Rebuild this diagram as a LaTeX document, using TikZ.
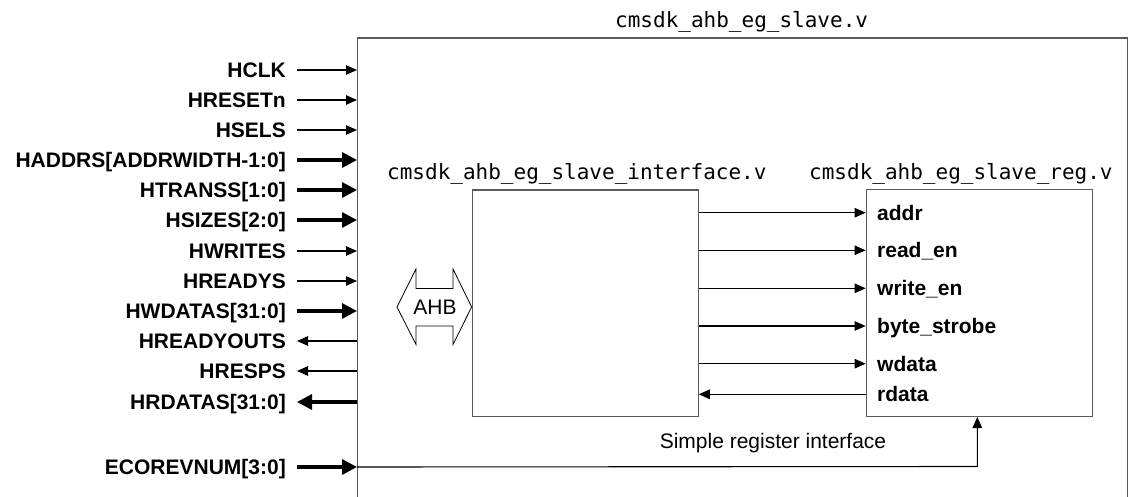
\documentclass[tikz,border=0pt]{standalone}
\usepackage{fontspec}
\setmainfont{Liberation Sans}
\newfontfamily\monofont{DejaVu Sans Mono}
\usetikzlibrary{arrows.meta}
\definecolor{boxgray}{RGB}{90,90,90}
\tikzset{
  sig/.style={font=\fontsize{21}{25}\selectfont\bfseries, inner sep=0pt, text height=17pt, text depth=2pt},
  modlabel/.style={font=\fontsize{21}{25}\selectfont\monofont, inner sep=0pt, anchor=base west},
  plain/.style={font=\fontsize{21}{25}\selectfont, inner sep=0pt},
  block/.style={draw=boxgray, line width=1.1pt, minimum width=226pt, minimum height=226.5pt, inner sep=0pt},
  thinarr/.style={line width=1.1pt, -{Triangle[length=11pt,width=9.5pt]}},
  thickarr/.style={line width=3.2pt, -{Triangle[length=15pt,width=15pt]}},
  thinline/.style={line width=1.1pt},
}
\begin{document}
\begin{tikzpicture}[x=1pt,y=-1pt]
\useasboundingbox (0,0) rectangle (1135,497);
\clip (0,0) rectangle (1135,497);
% outer module
\node[draw=boxgray, line width=1.1pt, minimum width=770pt, minimum height=500pt, inner sep=0pt, anchor=north west] (slave) at (357,37.5) {};
\node[modlabel] (slavelbl) at (615,28) {cmsdk\_ahb\_eg\_slave.v};
% inner blocks
\node[block] (iface) at (585.2,303.3) {};
\node[block] (reg) at (979.2,303.2) {};
\node[modlabel] (ifacelbl) at (387,180) {cmsdk\_ahb\_eg\_slave\_interface.v};
\node[modlabel] (reglbl) at (809,180) {cmsdk\_ahb\_eg\_slave\_reg.v};
% left signals
\foreach \n/\t/\y in {hclk/HCLK/70, hresetn/HRESETn/100, hsels/HSELS/130, haddrs/HADDRS[ADDRWIDTH-1:0]/160,
  htranss/HTRANSS[1:0]/190, hsizes/HSIZES[2:0]/220, hwrites/HWRITES/251, hreadys/HREADYS/281,
  hwdatas/HWDATAS[31:0]/311, hreadyouts/HREADYOUTS/341, hresps/HRESPS/371, hrdatas/HRDATAS[31:0]/402,
  ecorevnum/ECOREVNUM[3:0]/467}
  \node[sig, anchor=east] (\n) at (286,\y) {\t};
\foreach \n in {hclk,hresetn,hsels,hwrites,hreadys}
  \draw[thinarr] ([xshift=11pt]\n.east) -- (\n.east -| slave.west);
\foreach \n in {haddrs,htranss,hsizes,hwdatas,ecorevnum}
  \draw[thickarr] ([xshift=11pt]\n.east) -- (\n.east -| slave.west);
\foreach \n in {hreadyouts,hresps}
  \draw[thinarr] (\n.east -| slave.west) -- ([xshift=11pt]\n.east);
\draw[thickarr] (hrdatas.east -| slave.west) -- ([xshift=11pt]hrdatas.east);
% register interface signals
\foreach \n/\t/\y in {addr/addr/212.7, readen/read\_en/250.3, writeen/write\_en/288.3, bytestrobe/byte\_strobe/326, wdata/wdata/363.7, rdata/rdata/394.3}
  \node[sig, anchor=west] (\n) at (877,\y) {\t};
\foreach \n in {addr,readen,writeen,bytestrobe,wdata}
  \draw[thinarr] (\n.west -| iface.east) -- (\n.west -| reg.west);
\draw[thinarr] (rdata.west -| reg.west) -- (rdata.west -| iface.east);
% ECOREVNUM path
\coordinate (ecoturn) at (977.3,466.5);
\draw[thinarr] (ecorevnum.east -| slave.west) -- (ecoturn) -- (ecoturn |- reg.south);
\node[plain] (srilbl) at (773,443) {Simple register interface};
% AHB bus arrow
\draw[line width=0.8pt, fill=white] (397,307) -- (416,269) -- (416,288.5) -- (453,288.5) -- (453,269) -- (iface.west |- 0,307) -- (453,344.5) -- (453,326) -- (416,326) -- (416,344.5) -- cycle;
\node[plain] (ahb) at (435,307) {AHB};
\end{tikzpicture}
\end{document}
